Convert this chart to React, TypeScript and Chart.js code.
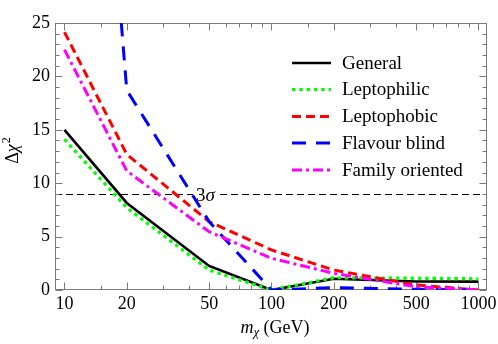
import React, { useEffect, useRef } from "react";
import { Chart, registerables } from "chart.js";

Chart.register(...registerables);

const masses = [10, 20, 50, 100, 200, 500, 1000];
const general = [15, 8.15, 2.25, 0, 1.05, 0.8, 0.78];
const leptophilic = [14.1, 7.7, 1.87, 0, 1.15, 1.1, 1.05];
const leptophobic = [24.15, 12.7, 6.4, 3.75, 1.87, 0.47, 0];
const flavourBlind = [90, 18.7, 6.4, 0, 0.22, 0.06, 0];
const familyOriented = [22.5, 11.15, 5.45, 2.97, 1.56, 0.3, 0];

const seriesLabels = ["General", "Leptophilic", "Leptophobic", "Flavour blind", "Family oriented"];
const xTickLabels = ["10", "20", "50", "100", "200", "500", "1000"];
const xMajorTicks = [10, 20, 50, 100, 200, 500, 1000];
const xMinorTicks = [15, 30, 40, 60, 70, 80, 90, 150, 300, 400, 600, 700, 800, 900];
const yTickLabels = ["0", "5", "10", "15", "20", "25"];
const yMajorTicks = [0, 5, 10, 15, 20, 25];
const sigmaLine = 9;

const colors = ["#000000", "#00ff00", "#ff0000", "#0000ff", "#ff00ff"];
const dashes: number[][] = [[], [3.5, 3.8], [9, 5], [14, 10], [10, 4, 3, 4]];
const widths = [2.6, 3.2, 3, 3, 3];

const FRAME = "#7a7a7a";
const SERIF = '"Liberation Serif", "Times New Roman", serif';

function toPts(vals: number[]) {
  return masses.map((m, i) => ({ x: m, y: vals[i] }));
}

const decorPlugin = {
  id: "decor",
  beforeDatasetsDraw(chart: any) {
    const ctx = chart.ctx as CanvasRenderingContext2D;
    const a = chart.chartArea;
    const xs = chart.scales.x;
    const ys = chart.scales.y;
    ctx.save();
    // 3 sigma dashed line
    const ySig = Math.round(ys.getPixelForValue(sigmaLine)) + 0.5;
    ctx.strokeStyle = "#000";
    ctx.lineWidth = 1;
    ctx.setLineDash([7, 4]);
    ctx.beginPath();
    ctx.moveTo(a.left, ySig);
    ctx.lineTo(a.right, ySig);
    ctx.stroke();
    ctx.setLineDash([]);
    // 3σ label with white background
    ctx.font = `19px ${SERIF}`;
    const w3 = ctx.measureText("3").width;
    ctx.font = `italic 19px ${SERIF}`;
    const ws = ctx.measureText("σ").width;
    const cx = xs.getPixelForValue(48);
    const x0 = cx - (w3 + ws) / 2;
    ctx.fillStyle = "#fff";
    ctx.fillRect(x0 - 3, ySig - 7, w3 + ws + 6, 14);
    ctx.fillStyle = "#000";
    ctx.textBaseline = "alphabetic";
    ctx.textAlign = "left";
    ctx.font = `19px ${SERIF}`;
    ctx.fillText("3", x0, ySig + 6.5);
    ctx.font = `italic 19px ${SERIF}`;
    ctx.fillText("σ", x0 + w3, ySig + 6.5);

    // frame
    ctx.strokeStyle = FRAME;
    ctx.lineWidth = 1;
    const L = Math.round(a.left) + 0.5, R = Math.round(a.right) - 0.5;
    const T = Math.round(a.top) + 0.5, B = Math.round(a.bottom) - 0.5;
    ctx.strokeRect(L, T, R - L, B - T);
    // x ticks
    const tickX = (v: number, len: number) => {
      const px = Math.round(xs.getPixelForValue(v)) + 0.5;
      ctx.beginPath();
      ctx.moveTo(px, B);
      ctx.lineTo(px, B - len);
      ctx.moveTo(px, T);
      ctx.lineTo(px, T + len);
      ctx.stroke();
    };
    xMajorTicks.forEach((v) => tickX(v, 7));
    xMinorTicks.forEach((v) => tickX(v, 4));
    const tickY = (v: number, len: number) => {
      const py = Math.round(ys.getPixelForValue(v)) + 0.5;
      ctx.beginPath();
      ctx.moveTo(L, py);
      ctx.lineTo(L + len, py);
      ctx.moveTo(R, py);
      ctx.lineTo(R - len, py);
      ctx.stroke();
    };
    for (let v = 0; v <= 25; v++) tickY(v, v % 5 === 0 ? 7 : 4);
    ctx.restore();
  },
  afterDraw(chart: any) {
    const ctx = chart.ctx as CanvasRenderingContext2D;
    const a = chart.chartArea;
    const xs = chart.scales.x;
    const ys = chart.scales.y;
    ctx.save();
    ctx.fillStyle = "#000";
    // tick labels
    ctx.font = `18px ${SERIF}`;
    ctx.textAlign = "center";
    ctx.textBaseline = "middle";
    xMajorTicks.forEach((v, i) => {
      ctx.fillText(xTickLabels[i], xs.getPixelForValue(v), a.bottom + 14);
    });
    ctx.textAlign = "right";
    yMajorTicks.forEach((v, i) => {
      ctx.fillText(yTickLabels[i], a.left - 5, ys.getPixelForValue(v));
    });
    // x title: m_χ (GeV)
    ctx.textAlign = "left";
    ctx.textBaseline = "alphabetic";
    ctx.font = `italic 18px ${SERIF}`;
    const wm = ctx.measureText("m").width;
    ctx.font = `italic 13px ${SERIF}`;
    const wc = ctx.measureText("χ").width;
    ctx.font = `18px ${SERIF}`;
    const wg = ctx.measureText(" (GeV)").width;
    const tx = 275 - (wm + wc + wg) / 2;
    const by = 333;
    ctx.font = `italic 18px ${SERIF}`;
    ctx.fillText("m", tx, by);
    ctx.font = `italic 13px ${SERIF}`;
    ctx.fillText("χ", tx + wm, by + 3);
    ctx.font = `18px ${SERIF}`;
    ctx.fillText(" (GeV)", tx + wm + wc, by);
    // y title: Δχ²
    ctx.save();
    ctx.font = `18px ${SERIF}`;
    const wd = ctx.measureText("Δ").width;
    ctx.font = `italic 18px ${SERIF}`;
    const wx = ctx.measureText("χ").width;
    ctx.font = `12px ${SERIF}`;
    const w2 = ctx.measureText("2").width;
    const total = wd + wx + w2;
    ctx.translate(18, 151 + total / 2);
    ctx.rotate(-Math.PI / 2);
    ctx.font = `18px ${SERIF}`;
    ctx.fillText("Δ", 0, 0);
    ctx.font = `italic 18px ${SERIF}`;
    ctx.fillText("χ", wd, 0);
    ctx.font = `12px ${SERIF}`;
    ctx.fillText("2", wd + wx + 1, -8);
    ctx.restore();
    // legend
    const lx0 = 292, lx1 = 331, tx0 = 342;
    const rows = [63, 89.5, 116.5, 143, 170];
    ctx.font = `19px ${SERIF}`;
    ctx.textBaseline = "middle";
    ctx.textAlign = "left";
    chart.data.datasets.forEach((ds: any, i: number) => {
      const y = rows[i];
      ctx.strokeStyle = ds.borderColor;
      ctx.lineWidth = ds.borderWidth;
      ctx.setLineDash(ds.borderDash || []);
      ctx.beginPath();
      ctx.moveTo(lx0, y);
      ctx.lineTo(lx1, y);
      ctx.stroke();
      ctx.setLineDash([]);
      ctx.fillStyle = "#000";
      ctx.fillText(ds.label, tx0, y + 1);
    });
    ctx.restore();
  },
};

export default function App() {
  const ref = useRef<HTMLCanvasElement | null>(null);
  useEffect(() => {
    if (!ref.current) return;
    const seriesData = [general, leptophilic, leptophobic, flavourBlind, familyOriented];
    const chart = new Chart(ref.current, {
      type: "line",
      data: {
        datasets: seriesData.map((vals, i) => ({
          label: seriesLabels[i],
          data: toPts(vals),
          borderColor: colors[i],
          backgroundColor: colors[i],
          borderWidth: widths[i],
          borderDash: dashes[i],
          pointRadius: 0,
          tension: 0,
          fill: false,
          order: 5 - i,
          borderCapStyle: "butt",
          borderJoinStyle: "miter",
        })),
      },
      options: {
        responsive: false,
        animation: false,
        events: [],
        layout: { padding: { left: 55, right: 11, top: 23, bottom: 54 } },
        plugins: { legend: { display: false }, tooltip: { enabled: false }, title: { display: false } },
        scales: {
          x: { type: "logarithmic", min: 9, max: 1100, display: false },
          y: { type: "linear", min: 0, max: 25, display: false },
        },
      },
      plugins: [decorPlugin],
    } as any);
    return () => chart.destroy();
  }, []);
  return (
    <div style={{ position: "absolute", left: 0, top: 0, width: 498, height: 344, background: "#fff" }}>
      <canvas ref={ref} width={498} height={344} style={{ width: 498, height: 344, display: "block" }} />
    </div>
  );
}
